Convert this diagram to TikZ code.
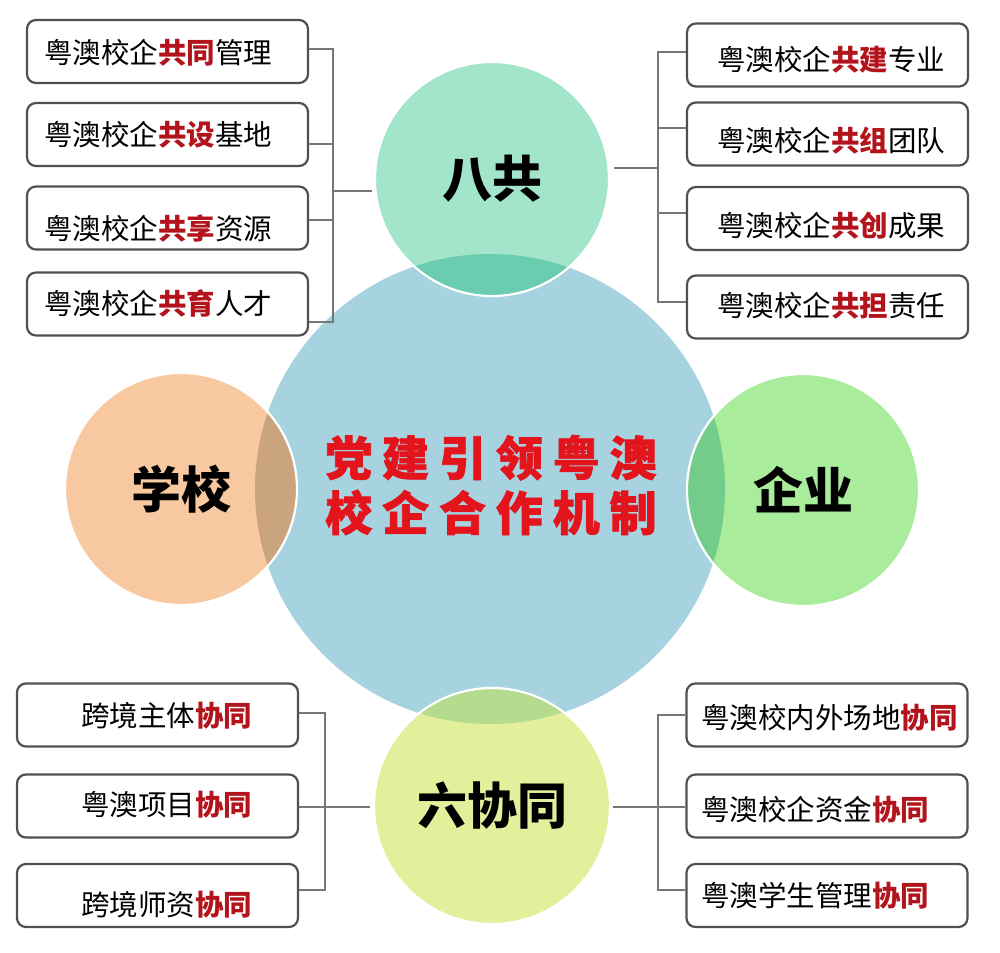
\documentclass[tikz,border=0pt]{standalone}
\usepackage{fontspec}
\setmainfont{Noto Sans CJK SC}
\definecolor{bigc}{HTML}{A7D3E1}
\definecolor{topc}{HTML}{A2E5CB}
\definecolor{topl}{HTML}{6ACDB0}
\definecolor{leftc}{HTML}{F8C8A0}
\definecolor{leftl}{HTML}{C9A47F}
\definecolor{rightc}{HTML}{A8EC9C}
\definecolor{rightl}{HTML}{74CC8A}
\definecolor{botc}{HTML}{E2F09C}
\definecolor{botl}{HTML}{B4DB8E}
\definecolor{hl}{HTML}{B3141C}
\definecolor{ctr}{HTML}{E4141C}
\definecolor{boxline}{HTML}{505050}
\definecolor{conn}{HTML}{777777}
\newcommand{\redpart}[1]{\textcolor{hl}{\bfseries #1}}
\tikzset{
  itembox/.style={draw=boxline, line width=2.2pt, rounded corners=9pt, fill=white,
    minimum width=281pt, minimum height=63pt, inner sep=0pt},
  itemtext/.style={anchor=west, inner sep=0pt, font=\fontsize{28.5}{30}\selectfont},
  link/.style={draw=conn, line width=2pt},
  bubble/.style={circle, inner sep=0pt, minimum size=#1, font=\fontsize{50}{55}\selectfont\bfseries},
  rim/.style={draw=white, line width=2.2pt},
}
\begin{document}
\begin{tikzpicture}[x=1pt, y=-1pt]
\useasboundingbox[fill=white] (0,0) rectangle (1000,952);

% ---- boxes: top-left
\node[itembox] (tl1) at (167.5,51.5) {};
\node[itembox] (tl2) at (167.5,134.5) {};
\node[itembox] (tl3) at (167.5,218) {};
\node[itembox] (tl4) at (167.5,304) {};
\node[itemtext] (tl1t) at (44,52.5) {粤澳校企\redpart{共同}管理};
\node[itemtext] (tl2t) at (44,134.5) {粤澳校企\redpart{共设}基地};
\node[itemtext] (tl3t) at (44,229) {粤澳校企\redpart{共享}资源};
\node[itemtext] (tl4t) at (44,303.5) {粤澳校企\redpart{共育}人才};
% ---- boxes: top-right
\node[itembox] (tr1) at (827.5,55) {};
\node[itembox] (tr2) at (827.5,134) {};
\node[itembox] (tr3) at (827.5,218.5) {};
\node[itembox] (tr4) at (827.5,307) {};
\node[itemtext] (tr1t) at (717,59.5) {粤澳校企\redpart{共建}专业};
\node[itemtext] (tr2t) at (717,141) {粤澳校企\redpart{共组}团队};
\node[itemtext] (tr3t) at (717,226) {粤澳校企\redpart{共创}成果};
\node[itemtext] (tr4t) at (717,306) {粤澳校企\redpart{共担}责任};
% ---- boxes: bottom-left
\node[itembox] (bl1) at (157.5,715) {};
\node[itembox] (bl2) at (157.5,806) {};
\node[itembox] (bl3) at (157.5,895.5) {};
\node[itemtext] (bl1t) at (81,715.5) {跨境主体\redpart{协同}};
\node[itemtext] (bl2t) at (81,805) {粤澳项目\redpart{协同}};
\node[itemtext] (bl3t) at (81,905) {跨境师资\redpart{协同}};
% ---- boxes: bottom-right
\node[itembox] (br1) at (827,715) {};
\node[itembox] (br2) at (827,806) {};
\node[itembox] (br3) at (827,895.5) {};
\node[itemtext] (br1t) at (701,717.5) {粤澳校内外场地\redpart{协同}};
\node[itemtext] (br2t) at (701,810) {粤澳校企资金\redpart{协同}};
\node[itemtext] (br3t) at (701,896) {粤澳学生管理\redpart{协同}};

% ---- circles
\node[circle, inner sep=0pt, minimum size=470pt, fill=bigc] (core) at (490,489) {};
\node[bubble=234pt, fill=topc] (ba) at (492,179) {八共};
\node[bubble=232pt, fill=leftc] (xx) at (181,489) {学校};
\node[bubble=232pt, fill=rightc] (qy) at (803,490) {企业};
\node[bubble=236pt, fill=botc] (lx) at (492,806) {六协同};
\begin{scope}
  \clip (core.center) circle (235pt);
  \fill[topl] (ba.center) circle (117pt);
  \fill[leftl] (xx.center) circle (116pt);
  \fill[rightl] (qy.center) circle (116pt);
  \fill[botl] (lx.center) circle (118pt);
\end{scope}
\draw[rim] (ba.center) circle (117pt);
\draw[rim] (xx.center) circle (116pt);
\draw[rim] (qy.center) circle (116pt);
\draw[rim] (lx.center) circle (118pt);
\node[inner sep=0pt, align=center, text=ctr,
  font=\fontsize{47}{55}\selectfont\bfseries\addfontfeatures{LetterSpace=21,FakeBold=1.5}] (title) at (491,485)
  {党建引领粤澳\\校企合作机制};

% ---- connectors: top-left
\coordinate (tlTop) at (333,49);
\coordinate (tlBot) at (333,322);
\coordinate (tlJ) at (333,191);
\draw[link] ([yshift=2.5pt]tl1.east) -- (tlTop) -- (tlBot) -- ([yshift=-18pt]tl4.east);
\draw[link] ([yshift=-9.5pt]tl2.east) -| (tlTop);
\draw[link] ([yshift=-2pt]tl3.east) -| (tlTop);
\draw[link, shorten >=3pt] (tlJ) -- (tlJ -| ba.west);
% ---- connectors: top-right
\coordinate (trTop) at (658,52);
\coordinate (trBot) at (658,302);
\coordinate (trJ) at (658,168);
\draw[link] ([yshift=3pt]tr1.west) -- (trTop) -- (trBot) -- ([yshift=5pt]tr4.west);
\draw[link] ([yshift=6pt]tr2.west) -| (trTop);
\draw[link] ([yshift=5.5pt]tr3.west) -| (trTop);
\draw[link, shorten >=5pt] (trJ) -- (trJ -| ba.east);
% ---- connectors: bottom-left
\coordinate (blTop) at (325,713);
\coordinate (blBot) at (325,890);
\coordinate (blJ) at (325,807);
\draw[link] ([yshift=2pt]bl1.east) -- (blTop) -- (blBot) -- ([yshift=5.5pt]bl3.east);
\draw[link] ([yshift=-1pt]bl2.east) -| (blTop);
\draw[link, shorten >=4pt] (blJ) -- (blJ -| lx.west);
% ---- connectors: bottom-right
\coordinate (brTop) at (658,715);
\coordinate (brBot) at (658,890);
\coordinate (brJ) at (658,807);
\draw[link] (br1.west) -- (brTop) -- (brBot) -- ([yshift=5.5pt]br3.west);
\draw[link] ([yshift=-1pt]br2.west) -| (brTop);
\draw[link, shorten >=3pt] (brJ) -- (brJ -| lx.east);
\end{tikzpicture}
\end{document}
